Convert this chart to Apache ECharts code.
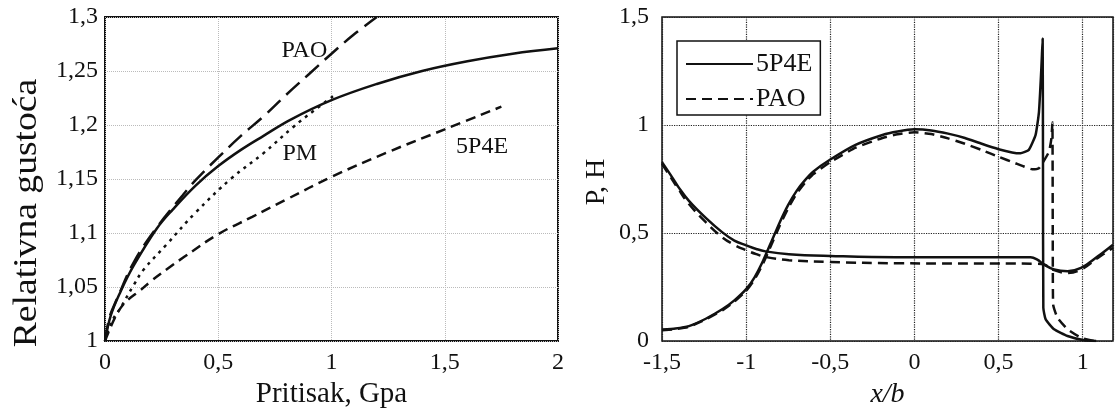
<!DOCTYPE html>
<html>
<head>
<meta charset="utf-8">
<script src="https://cdn.jsdelivr.net/npm/echarts@6/dist/echarts.min.js"></script>
<style>
  html, body { margin: 0; background: #fff; }
  #chart { width: 1116px; height: 414px; }
</style>
</head>
<body>
<div id="chart"></div>
<script>
// left panel: relative density vs pressure (GPa)
const densSolid = [[0,1],[0.026,1.024],[0.069,1.046],[0.127,1.07],[0.228,1.104],[0.3,1.122],[0.4,1.144],[0.5,1.162],[0.6,1.177],[0.7,1.19],[0.82,1.205],[1.0,1.223],[1.2,1.238],[1.4,1.25],[1.6,1.259],[1.8,1.266],[2.0,1.271]]
const densPAO = [[0,1],[0.02,1.022],[0.055,1.04],[0.127,1.073],[0.228,1.105],[0.343,1.135],[0.4,1.149],[0.5,1.17],[0.6,1.19],[0.7,1.208],[0.8,1.228],[0.9,1.247],[1.0,1.266],[1.1,1.284],[1.2,1.3]]
const densPM = [[0,1],[0.03,1.018],[0.069,1.031],[0.127,1.052],[0.17,1.066],[0.27,1.089],[0.4,1.119],[0.56,1.151],[0.7,1.174],[0.83,1.198],[0.92,1.213],[1.016,1.228]]
const dens5P4E = [[0,1],[0.04,1.02],[0.07,1.031],[0.1,1.038],[0.156,1.047],[0.2,1.055],[0.27,1.066],[0.35,1.078],[0.5,1.099],[0.65,1.115],[0.8,1.131],[1.0,1.152],[1.25,1.175],[1.5,1.196],[1.75,1.217]]
const leftNotes = [['PAO', 0.88, 1.269], ['PM', 0.86, 1.173], ['5P4E', 1.665, 1.18]]

// right panel: pressure P and film thickness H vs x/b
const p5P4E = [[-1.5,0.053],[-1.42,0.058],[-1.34,0.069],[-1.24,0.103],[-1.14,0.148],[-1.07,0.188],[-1.0,0.24],[-0.95,0.295],[-0.9,0.37],[-0.85,0.46],[-0.8,0.55],[-0.75,0.63],[-0.7,0.695],[-0.65,0.745],[-0.6,0.785],[-0.5,0.84],[-0.35,0.908],[-0.19,0.954],[-0.1,0.97],[0,0.98],[0.1,0.975],[0.2,0.96],[0.3,0.94],[0.4,0.913],[0.5,0.888],[0.58,0.873],[0.63,0.869],[0.68,0.885],[0.72,0.954],[0.74,1.06],[0.754,1.26],[0.762,1.4],[0.764,0.8],[0.766,0.154],[0.78,0.1],[0.83,0.054],[0.91,0.023],[1.01,0.003],[1.08,0]]
const pPAO = [[-1.5,0.05],[-1.42,0.055],[-1.34,0.066],[-1.24,0.1],[-1.14,0.143],[-1.07,0.182],[-1.0,0.232],[-0.95,0.285],[-0.9,0.358],[-0.85,0.446],[-0.8,0.535],[-0.75,0.615],[-0.7,0.682],[-0.65,0.733],[-0.6,0.773],[-0.5,0.828],[-0.35,0.895],[-0.19,0.94],[-0.1,0.957],[0,0.966],[0.1,0.958],[0.2,0.938],[0.3,0.913],[0.4,0.884],[0.5,0.853],[0.6,0.823],[0.65,0.808],[0.7,0.795],[0.74,0.8],[0.77,0.835],[0.8,0.877],[0.814,0.938],[0.82,1.012],[0.822,0.5],[0.824,0.17],[0.85,0.108],[0.91,0.054],[0.99,0.015],[1.07,0]]
const h5P4E = [[-1.5,0.828],[-1.45,0.77],[-1.4,0.71],[-1.34,0.649],[-1.24,0.57],[-1.143,0.504],[-1.07,0.465],[-1.0,0.443],[-0.94,0.426],[-0.885,0.415],[-0.746,0.402],[-0.5,0.394],[-0.11,0.388],[0.69,0.388],[0.73,0.377],[0.77,0.354],[0.83,0.331],[0.91,0.323],[0.99,0.338],[1.09,0.392],[1.18,0.446]]
const hPAO = [[-1.5,0.82],[-1.45,0.76],[-1.4,0.7],[-1.34,0.634],[-1.24,0.55],[-1.143,0.481],[-1.07,0.445],[-1.0,0.42],[-0.94,0.402],[-0.885,0.389],[-0.746,0.374],[-0.5,0.366],[-0.11,0.36],[0.73,0.358],[0.77,0.354],[0.83,0.328],[0.91,0.315],[0.99,0.331],[1.09,0.385],[1.18,0.431]]

const font = 'Liberation Serif'
const comma = v => String(+v.toFixed(2)).replace('.', ',')
const onStep = step => v => Math.abs(v / step - Math.round(v / step)) < 1e-6 ? comma(v) : ''

const chart = echarts.init(document.getElementById('chart'))

const line = (name, data, xi, type, extra) => Object.assign({
  name, type: 'line', data, xAxisIndex: xi, yAxisIndex: xi,
  symbol: 'none', smooth: 0.4, clip: true,
  itemStyle: { color: '#111' },
  lineStyle: { color: '#111', width: 2.5, type },
}, extra || {})

chart.setOption({
  animation: false,
  textStyle: { fontFamily: font },
  grid: [
    { left: 105, top: 17, width: 453, height: 327, show: true, borderColor: '#111', borderWidth: 2, backgroundColor: 'transparent' },
    { left: 662, top: 17, width: 453, height: 327, show: true, borderColor: '#111', borderWidth: 1.5, backgroundColor: 'transparent' },
  ],
  xAxis: [
    {
      gridIndex: 0, type: 'value', min: 0, max: 2, interval: 0.5,
      axisLine: { show: false }, axisTick: { show: false },
      axisLabel: { formatter: comma, color: '#111', fontSize: 24, margin: 10 },
      splitLine: { lineStyle: { color: '#bbb', type: 'dotted', width: 1 } },
      name: 'Pritisak, Gpa', nameLocation: 'middle', nameGap: 36,
      nameTextStyle: { color: '#111', fontSize: 29 },
    },
    {
      gridIndex: 1, type: 'value', min: -1.5, max: 1.18, interval: 0.5,
      axisLine: { show: false }, axisTick: { show: false },
      axisLabel: { formatter: onStep(0.5), color: '#111', fontSize: 24, margin: 10 },
      splitLine: { lineStyle: { color: '#222', type: 'dotted', width: 1.2 } },
      name: 'x/b', nameLocation: 'middle', nameGap: 40,
      nameTextStyle: { color: '#111', fontSize: 28, fontStyle: 'italic' },
    },
  ],
  yAxis: [
    {
      gridIndex: 0, type: 'value', min: 1, max: 1.3, interval: 0.05,
      axisLine: { show: false }, axisTick: { show: false },
      axisLabel: { formatter: comma, color: '#111', fontSize: 24, margin: 7 },
      splitLine: { lineStyle: { color: '#bbb', type: 'dotted', width: 1 } },
    },
    {
      gridIndex: 1, type: 'value', min: 0, max: 1.5, interval: 0.5,
      axisLine: { show: false }, axisTick: { show: false },
      axisLabel: { formatter: comma, color: '#111', fontSize: 24, margin: 13 },
      splitLine: { lineStyle: { color: '#222', type: 'dotted', width: 1.2 } },
    },
  ],
  legend: {
    left: 677, top: 41, orient: 'vertical',
    data: ['5P4E', 'PAO'],
    itemWidth: 67, itemHeight: 14, itemGap: 9,
    padding: [10, 8, 3, 8],
    itemStyle: { color: 'rgba(0,0,0,0)', borderWidth: 0 },
    borderColor: '#111', borderWidth: 1.5, backgroundColor: '#fff',
    textStyle: { fontFamily: font, fontSize: 26, color: '#111', padding: [0, 0, 0, -2] },
  },
  graphic: [
    { type: 'text', x: 27, y: 213, rotation: Math.PI / 2, scaleX: 1.14, style: { text: 'Relativna gustoća', font: '33px "Liberation Serif"', fill: '#111', align: 'center', verticalAlign: 'middle' } },
    { type: 'text', x: 597, y: 182, rotation: Math.PI / 2, style: { text: 'P, H', font: '28px "Liberation Serif"', fill: '#111', align: 'center', verticalAlign: 'middle' } },
  ],
  series: [
    line('solid', densSolid, 0, 'solid'),
    line('PAO-left', densPAO, 0, [18, 8], {
      markPoint: { symbol: 'circle', symbolSize: 0, silent: true,
        label: { show: true, formatter: '{b}', fontSize: 24, color: '#111', fontFamily: font },
        data: leftNotes.map(([n, x, y]) => ({ name: n, coord: [x, y] })) },
    }),
    line('PM', densPM, 0, [3, 5]),
    line('5P4E-left', dens5P4E, 0, [10, 6]),
    line('5P4E', p5P4E, 1, 'solid', { smooth: 0.15 }),
    line('5P4E', h5P4E, 1, 'solid'),
    line('PAO', pPAO, 1, [10, 6], { smooth: 0.15 }),
    line('PAO', hPAO, 1, [10, 6]),
  ],
})
</script>
</body>
</html>
